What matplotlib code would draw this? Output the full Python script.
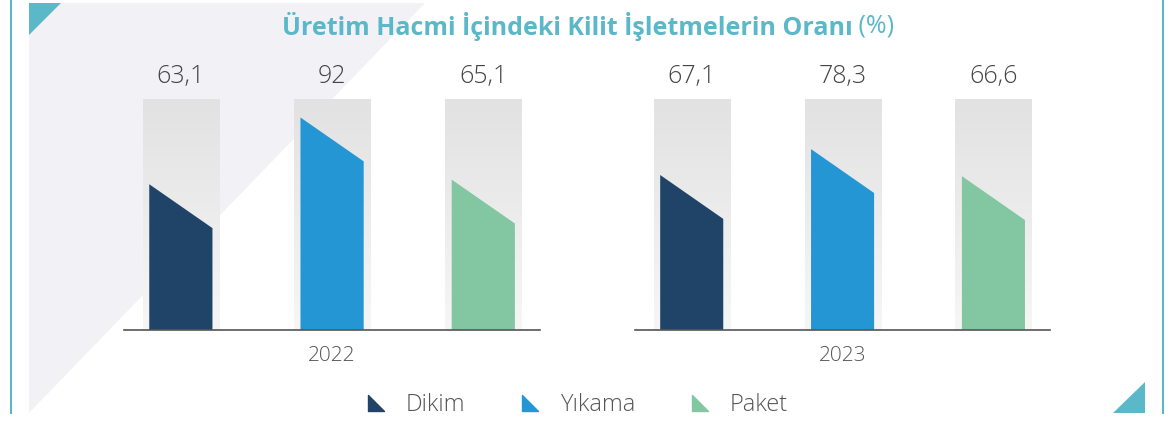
import matplotlib
matplotlib.use("Agg")
import matplotlib.pyplot as plt
import matplotlib.transforms as mtransforms
from matplotlib.colors import LinearSegmentedColormap
from matplotlib.lines import Line2D
from matplotlib.path import Path
from matplotlib.patches import Polygon
import numpy as np

# Data
years = ["2022", "2023"]
categories = ["Dikim", "Yıkama", "Paket"]
values_2022 = [63.1, 92.0, 65.1]
values_2023 = [67.1, 78.3, 66.6]
value_labels_2022 = ["63,1", "92", "65,1"]
value_labels_2023 = ["67,1", "78,3", "66,6"]

colors = ["#1f4467", "#2396d3", "#82c7a1"]
teal = "#5bb8c9"
FONT = ["Open Sans", "DejaVu Sans"]
SLANT = 19  # drop of the slanted bar top, in value units

plt.rcParams["font.family"] = FONT

W, H = 1168, 421
fig = plt.figure(figsize=(W / 100, H / 100), dpi=100)

# decoration layer in pixel coordinates
bg = fig.add_axes([0, 0, 1, 1], zorder=-1)
bg.set_xlim(0, W)
bg.set_ylim(H, 0)
bg.axis("off")
bg.add_patch(Polygon([(29, 3), (425, 3), (29, 413)], closed=True, color="#f2f2f6", lw=0))
bg.add_patch(Polygon([(29, 3), (61, 3), (29, 35)], closed=True, color=teal, lw=0))
bg.add_patch(Polygon([(1145, 382), (1113, 413), (1145, 413)], closed=True, color=teal, lw=0))
bg.plot([11, 11], [0, 413], color=teal, lw=1.5)
bg.plot([1163, 1163], [0, 413], color=teal, lw=1.5)

grad = LinearSegmentedColormap.from_list("g", ["#f6f6f6", "#e2e2e2"])
grad_img = np.linspace(0, 1, 100).reshape(-1, 1)


def draw_group(left_px, width_px, vals, labels, year):
    ax = fig.add_axes([left_px / W, (H - 330) / H, width_px / W, 231 / H])
    ax.patch.set_alpha(0)
    x = np.arange(len(vals))
    for xi, v, lab, c in zip(x, vals, labels, colors):
        ax.imshow(grad_img, cmap=grad, origin="lower", aspect="auto",
                  extent=[xi - 0.252, xi + 0.252, 0, 100], zorder=1)
        w = 0.209
        ax.add_patch(Polygon([(xi - w, 0), (xi - w, v), (xi + w, v - SLANT), (xi + w, 0)],
                             closed=True, color=c, lw=0, zorder=2))
        ax.annotate(lab, (xi, 100), xytext=(0, 16), textcoords="offset points",
                    ha="center", va="center", fontsize=18, color="#444444",
                    fontweight="light", annotation_clip=False)
    ax.set_xlim(-0.376, 2.375)
    ax.set_ylim(0, 100)
    for s in ["top", "left", "right"]:
        ax.spines[s].set_visible(False)
    ax.spines["bottom"].set_color("#555555")
    ax.spines["bottom"].set_linewidth(1.2)
    ax.set_xticks([])
    ax.set_yticks([])
    trans = mtransforms.blended_transform_factory(ax.transAxes, ax.transAxes)
    ax.annotate(year, (0.5, 0), xycoords=trans, xytext=(0, -18.5), textcoords="offset points",
                ha="center", va="center", fontsize=15, color="#555555", fontweight="light")
    return ax


draw_group(124, 416, values_2022, value_labels_2022, years[0])
draw_group(635, 415, values_2023, value_labels_2023, years[1])

# title: bold part plus regular "(%)"
renderer = fig.canvas.get_renderer()
t1 = fig.text(0, 1 - 26 / H, "Üretim Hacmi İçindeki Kilit İşletmelerin Oranı", ha="left",
              va="center", fontsize=18, fontweight="bold", color=teal)
t2 = fig.text(0, 1 - 26 / H, " (%)", ha="left", va="center", fontsize=18, color=teal)
w1 = t1.get_window_extent(renderer).width
w2 = t2.get_window_extent(renderer).width
start = 588 - (w1 + w2) / 2
t1.set_x(start / W)
t2.set_x((start + w1) / W)

# legend with right-triangle markers
tri = Path([(-1, 1), (-1, -1), (1, -1), (-1, 1)], [Path.MOVETO, Path.LINETO, Path.LINETO, Path.CLOSEPOLY])
handles = [Line2D([], [], marker=tri, markersize=12, linestyle="none", color=c) for c in colors]
leg = fig.legend(handles, categories, loc="center", bbox_to_anchor=(576 / W, 16 / H),
                 ncol=3, frameon=False, fontsize=17, handlelength=1.0, handletextpad=0.77,
                 columnspacing=2.25, borderpad=0, borderaxespad=0)
for t in leg.get_texts():
    t.set_color("#555555")
    t.set_fontweight("light")

fig.savefig("out.png", dpi=100)
